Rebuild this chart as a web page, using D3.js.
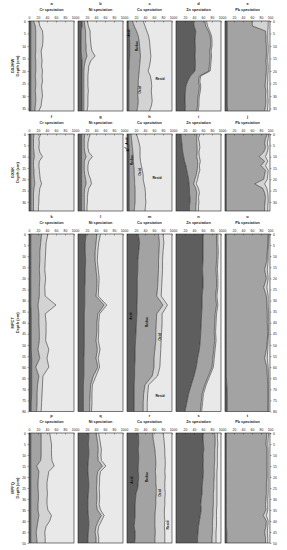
<!DOCTYPE html>
<html>
<head>
<meta charset="utf-8">
<script src="https://cdn.jsdelivr.net/npm/d3@7"></script>
<style>
  body { margin: 0; background: #fff; }
  text { font-family: "Liberation Sans", Arial, sans-serif; }
</style>
</head>
<body>
<div id="my_dataviz"></div>
<script>
// ---- data -------------------------------------------------------------
// columns (metals) and panel letters
var metals = ["Cr", "Ni", "Cu", "Zn", "Pb"];
var letters = ["a","b","c","d","e","f","g","h","i","j","k","l","m","n","o","p","q","r","s","t"];
var cores = ["GXJHW", "GXSK", "MPCT", "MPFQ"];
var xTicks = [0, 20, 40, 60, 80, 100];

// sampled depths (cm) of each core
var depthGXJHW = [0,2,4,6,8,10,12,14,16,18,20,22,24,26,28,30,32,34,36];
var depthGXSK  = [0,2,4,6,8,10,12,14,16,18,20,22,24,26,28,30,32,34];
var depthMPCT  = [0,4,8,12,16,20,24,28,32,36,40,44,48,52,56,60,64,68,72,76,80];
var depthMPFQ  = [0,2.5,5,7.5,10,12.5,15,17.5,20,22.5,25,27.5,30,32.5,35,37.5,40,42.5,45,47.5,50];

// depth tick labels
var ticksGXJHW = [0,5,10,15,20,25,30,35];
var ticksGXSK  = [0,5,10,15,20,25,30];
var ticksMPCT  = [0,5,10,15,20,25,30,35,40,45,50,55,60,65,70,75,80];
var ticksMPFQ  = [0,5,10,15,20,25,30,35,40,45,50];

// cumulative speciation (%): acid, acid+reduc, acid+reduc+oxid (rest = resid)
var gxjhwCr = {
  acid:  [4,4,4,4,4,4,4,4,4,4,4,4,4,4,4,4,4,4,4],
  reduc: [10,14,15,15,15,15,15,14,15,15,15,14,15,15,14,15,15,14,13],
  oxid:  [22,24,30,31,31,30,27,28,29,28,30,29,30,28,29,30,28,27,22]
};
var gxjhwNi = {
  acid:  [9,9,7,7,7,7,7,8,9,9,9,9,9,9,9,9,9,9,9],
  reduc: [14,15,17,17,17,18,18,20,16,14,13,13,13,13,13,13,13,13,13],
  oxid:  [21,23,27,27,28,29,31,38,28,24,23,22,22,22,23,22,22,22,20]
};
var gxjhwCu = {
  acid:  [3,3,4,5,6,6,6,6,5,5,4,4,4,4,4,4,4,4,4],
  reduc: [12,16,21,25,27,28,29,30,29,28,27,26,25,25,24,24,25,24,22],
  oxid:  [36,40,44,48,50,51,52,53,52,50,47,52,54,55,54,55,56,54,50]
};
var gxjhwZn = {
  acid:  [39,40,44,43,42,43,43,42,43,43,42,32,26,22,21,20,20,21,20],
  reduc: [64,66,72,76,77,77,75,76,75,74,73,52,50,52,51,49,48,48,46],
  oxid:  [68,70,75,79,80,80,78,79,78,77,76,55,53,55,54,52,51,51,49]
};
var gxjhwPb = {
  acid:  [5,5,5,5,5,5,5,5,5,5,5,5,5,5,5,5,5,5,6],
  reduc: [60,61,90,91,91,92,92,92,91,92,92,91,90,89,91,90,91,90,88],
  oxid:  [96,96,95,95,95,96,96,95,95,96,96,95,95,94,95,95,96,95,94]
};

var gxskCr = {
  acid:  [4,4,4,4,4,4,4,4,4,4,4,4,4,4,4,4,4,4],
  reduc: [11,10,10,10,11,12,10,10,11,11,12,13,11,10,10,10,10,10],
  oxid:  [26,22,23,22,24,30,23,22,23,24,25,28,24,23,22,22,21,21]
};
var gxskNi = {
  acid:  [8,8,8,8,8,8,8,8,8,8,8,8,8,8,8,8,8,8],
  reduc: [15,14,14,14,15,18,14,14,14,15,17,18,15,14,14,14,14,14],
  oxid:  [27,24,22,22,24,32,24,22,22,24,28,30,24,22,21,21,20,20]
};
var gxskCu = {
  acid:  [4,4,4,5,5,5,5,5,5,5,5,5,5,5,5,5,5,5],
  reduc: [9,10,11,12,13,14,14,15,16,16,17,17,18,18,18,18,17,16],
  oxid:  [21,24,27,29,29,29,30,32,34,36,36,38,40,41,41,42,41,40]
};
var gxskZn = {
  acid:  [11,12,13,14,15,17,19,22,24,26,28,29,30,30,31,31,30,30],
  reduc: [47,46,46,47,47,46,48,48,47,45,42,39,44,46,45,45,44,44],
  oxid:  [53,50,52,53,51,52,54,52,53,50,48,45,50,52,50,51,50,50]
};
var gxskPb = {
  acid:  [3,3,3,3,3,3,3,3,3,3,3,3,3,3,3,3,3,3],
  reduc: [94,90,88,90,86,76,88,80,90,88,86,66,84,88,90,89,88,88],
  oxid:  [97,96,94,96,94,90,95,90,96,95,94,88,93,95,96,96,95,95]
};

var mpctCr = {
  acid:  [4,4,4,4,4,4,4,4,4,5,5,5,5,5,6,6,6,6,6,5,5],
  reduc: [28,26,24,24,23,24,23,23,20,22,22,23,23,20,24,15,22,19,18,18,17],
  oxid:  [42,38,37,36,35,37,35,36,60,36,38,38,37,44,40,44,31,30,29,28,27]
};
var mpctNi = {
  acid:  [18,16,16,17,16,16,15,15,15,14,14,14,14,14,13,13,13,12,12,12,12],
  reduc: [42,40,38,38,40,42,42,40,58,44,42,42,40,43,40,44,34,28,27,26,26],
  oxid:  [50,46,44,43,45,47,46,45,64,48,46,46,45,49,45,48,40,32,31,31,30]
};
var mpctCu = {
  acid:  [25,28,26,24,24,23,23,23,22,22,21,20,19,18,18,17,17,16,16,16,16],
  reduc: [70,72,71,70,70,69,68,66,80,66,65,64,64,62,60,60,56,40,37,36,36],
  oxid:  [80,82,80,79,79,78,77,76,90,78,78,77,76,75,74,73,68,48,46,45,45]
};
var mpctZn = {
  acid:  [60,60,60,60,59,60,60,58,58,57,56,55,54,52,48,45,40,34,28,24,20],
  reduc: [90,90,91,90,89,90,90,88,90,87,86,85,86,84,82,80,72,64,58,56,54],
  oxid:  [93,93,94,93,92,93,93,91,93,90,89,88,89,87,85,83,75,67,61,59,57]
};
var mpctPb = {
  acid:  [3,3,3,3,3,3,3,3,3,3,3,3,3,3,3,3,3,4,5,5,5],
  reduc: [96,95,94,93,88,92,86,92,93,94,94,95,94,92,88,93,94,95,95,95,95],
  oxid:  [98,97,96,96,94,96,93,96,96,97,97,97,96,95,94,96,97,97,97,97,97]
};

var mpfqCr = {
  acid:  [4,4,4,4,4,4,4,4,4,4,4,4,4,4,4,4,4,4,4,4,4],
  reduc: [27,27,27,27,27,26,17,22,21,20,20,21,21,20,20,22,20,18,16,17,18],
  oxid:  [46,48,50,50,50,51,56,44,42,40,40,41,40,40,42,50,46,38,35,36,36]
};
var mpfqNi = {
  acid:  [24,24,23,24,24,23,22,22,23,24,24,23,22,22,22,23,24,24,23,22,22],
  reduc: [40,42,44,45,44,45,54,44,42,42,41,42,42,41,43,52,45,40,38,40,40],
  oxid:  [46,48,50,52,51,52,62,50,48,48,47,48,48,47,50,58,52,46,44,46,46]
};
var mpfqCu = {
  acid:  [25,26,26,25,26,26,25,25,26,25,24,20,19,18,18,18,17,16,18,18,17],
  reduc: [57,58,60,62,63,64,64,63,64,64,65,65,64,64,63,62,62,62,63,62,62],
  oxid:  [80,82,83,84,84,85,85,84,85,84,84,85,84,84,83,83,84,83,84,84,84]
};
var mpfqZn = {
  acid:  [60,60,61,62,60,61,60,61,60,59,58,58,56,55,56,54,52,50,49,48,48],
  reduc: [86,87,87,86,86,86,85,85,85,84,84,83,83,83,82,82,81,81,81,80,80],
  oxid:  [92,92,93,92,92,92,92,91,91,91,91,91,91,91,90,90,90,90,89,89,89]
};
var mpfqPb = {
  acid:  [3,3,3,3,3,3,3,3,3,3,3,3,3,3,3,3,3,3,4,4,4],
  reduc: [93,92,91,93,93,93,93,93,93,92,92,92,91,90,91,85,92,91,88,90,90],
  oxid:  [97,96,95,96,96,96,96,96,96,96,96,96,95,95,95,92,96,95,94,95,95]
};

// ---- layout -----------------------------------------------------------
var width = 287, height = 550;
var colLeft = [29, 78, 127, 176, 225], panelW = 45;

var rows = [
  {core: cores[0], depth: depthGXJHW, ticks: ticksGXJHW, max: 36, top: 21,  bottom: 111,
   panels: [gxjhwCr, gxjhwNi, gxjhwCu, gxjhwZn, gxjhwPb]},
  {core: cores[1], depth: depthGXSK, ticks: ticksGXSK, max: 34, top: 134, bottom: 211,
   panels: [gxskCr, gxskNi, gxskCu, gxskZn, gxskPb]},
  {core: cores[2], depth: depthMPCT, ticks: ticksMPCT, max: 80, top: 234, bottom: 411.5,
   panels: [mpctCr, mpctNi, mpctCu, mpctZn, mpctPb]},
  {core: cores[3], depth: depthMPFQ, ticks: ticksMPFQ, max: 50, top: 433, bottom: 543,
   panels: [mpfqCr, mpfqNi, mpfqCu, mpfqZn, mpfqPb]}
];

var fills = ["#5e5e5e", "#a3a3a3", "#d3d3d3", "#e9e9e9"];

var svg = d3.select("#my_dataviz")
  .append("svg")
    .attr("width", width)
    .attr("height", height);

rows.forEach(function(row, r) {
  var y = d3.scaleLinear().domain([0, row.max]).range([row.top, row.bottom]);

  row.panels.forEach(function(p, c) {
    var x = d3.scaleLinear().domain([0, 100]).range([colLeft[c], colLeft[c] + panelW]);
    var g = svg.append("g");

    var pts = row.depth.map(function(d, i) {
      return {depth: d, b: [0, p.acid[i], p.reduc[i], p.oxid[i], 100]};
    });

    // stacked bands
    [0, 1, 2, 3].forEach(function(k) {
      g.append("path")
        .datum(pts)
        .attr("fill", fills[k])
        .attr("d", d3.area()
          .y(function(d) { return y(d.depth); })
          .x0(function(d) { return x(d.b[k]); })
          .x1(function(d) { return x(d.b[k + 1]); }));
    });

    // boundary lines
    [1, 2, 3].forEach(function(k) {
      g.append("path")
        .datum(pts)
        .attr("fill", "none")
        .attr("stroke", "#111")
        .attr("stroke-width", 0.5)
        .attr("d", d3.line()
          .x(function(d) { return x(d.b[k]); })
          .y(function(d) { return y(d.depth); }));
    });

    // frame
    g.append("rect")
      .attr("x", x(0)).attr("y", row.top)
      .attr("width", panelW).attr("height", row.bottom - row.top)
      .attr("fill", "none").attr("stroke", "#222").attr("stroke-width", 0.6);

    // top axis
    var ax = g.append("g")
      .attr("transform", "translate(0," + row.top + ")")
      .call(d3.axisTop(x).tickValues(xTicks).tickSizeInner(-1.5).tickSizeOuter(0).tickPadding(2.5));
    ax.select(".domain").remove();
    ax.selectAll("line").attr("stroke", "#222").attr("stroke-width", 0.4);
    ax.selectAll("text").attr("font-size", 3.4).attr("fill", "#222").attr("font-family", null);

    // titles
    g.append("text")
      .attr("x", x(50)).attr("y", row.top - 16)
      .attr("text-anchor", "middle")
      .attr("font-size", 4).attr("font-weight", "bold").attr("fill", "#222")
      .text(letters[r * 5 + c]);
    g.append("text")
      .attr("x", x(50)).attr("y", row.top - 10.5)
      .attr("text-anchor", "middle")
      .attr("font-size", 3.8).attr("font-weight", "bold").attr("fill", "#222")
      .text(metals[c] + " speciation");

    // depth axes
    if (c === 0 || c === 4) {
      var axis = c === 0 ? d3.axisLeft(y) : d3.axisRight(y);
      var ay = g.append("g")
        .attr("transform", "translate(" + (c === 0 ? x(0) : x(100)) + ",0)")
        .call(axis.tickValues(row.ticks).tickSizeInner(1.5).tickSizeOuter(0).tickPadding(1.5));
      ay.select(".domain").remove();
      ay.selectAll("line").attr("stroke", "#222").attr("stroke-width", 0.4);
      ay.selectAll("text").attr("font-size", 3.4).attr("fill", "#222").attr("font-family", null);
    }
  });

  // row labels
  var mid = (row.top + row.bottom) / 2;
  svg.append("text")
    .attr("transform", "translate(14," + mid + ")rotate(-90)")
    .attr("text-anchor", "middle")
    .attr("font-size", 4).attr("font-weight", "bold").attr("fill", "#222")
    .text(row.core);
  svg.append("text")
    .attr("transform", "translate(18.5," + mid + ")rotate(-90)")
    .attr("text-anchor", "middle")
    .attr("font-size", 4).attr("font-weight", "bold").attr("fill", "#222")
    .text("Depth (cm)");
});

// Cu fraction labels
var cuLabels = [
  {t: "Acid",  x: 129,   y: 33,  rot: true},
  {t: "Reduc", x: 137,   y: 46,  rot: true},
  {t: "Oxid",  x: 139.5, y: 90,  rot: true},
  {t: "Resid", x: 160,   y: 79,  rot: false},
  {t: "Acid",  x: 126.5, y: 141, rot: true},
  {t: "Reduc", x: 131.5, y: 160, rot: true},
  {t: "Oxid",  x: 140,   y: 172, rot: true},
  {t: "Resid", x: 157,   y: 178, rot: false},
  {t: "Acid",  x: 131,   y: 316, rot: true},
  {t: "Reduc", x: 147,   y: 322, rot: true},
  {t: "Oxid",  x: 159.5, y: 337, rot: true},
  {t: "Resid", x: 160,   y: 396, rot: false},
  {t: "Acid",  x: 132,   y: 480, rot: true},
  {t: "Reduc", x: 147,   y: 477, rot: true},
  {t: "Oxid",  x: 160,   y: 493, rot: true},
  {t: "Resid", x: 168,   y: 525, rot: true}
];
svg.selectAll(".culab")
  .data(cuLabels)
  .enter()
  .append("text")
    .attr("class", "culab")
    .attr("transform", function(d) {
      return "translate(" + d.x + "," + d.y + ")" + (d.rot ? "rotate(-90)" : "");
    })
    .attr("text-anchor", "middle")
    .attr("dy", "0.35em")
    .attr("font-size", 3.4).attr("font-weight", "bold").attr("fill", "#111")
    .text(function(d) { return d.t; });

// arrow pointing at the thin acid band in panel h
svg.append("path")
  .attr("d", "M124.5,147 L128.5,151 M128.5,151 L126.2,150.6 M128.5,151 L128.1,148.7")
  .attr("stroke", "#111").attr("stroke-width", 0.8).attr("fill", "none");
</script>
</body>
</html>
